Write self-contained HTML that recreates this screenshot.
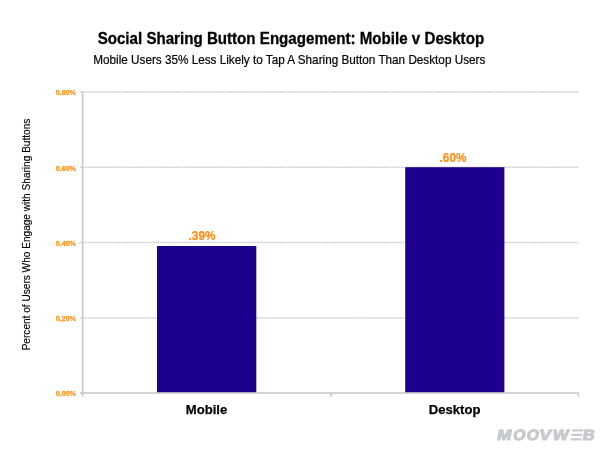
<!DOCTYPE html>
<html><head><meta charset="utf-8">
<style>
html,body{margin:0;padding:0;background:#fff;width:600px;height:451px;overflow:hidden}
svg{display:block;filter:blur(0.3px)}
text{font-family:"Liberation Sans",sans-serif}
</style></head>
<body>
<svg width="600" height="451" viewBox="0 0 600 451">
  <!-- title -->
  <text x="290.9" y="43.6" font-size="16" font-weight="bold" fill="#000" stroke="#000" stroke-width="0.3" text-anchor="middle" textLength="386.5" lengthAdjust="spacingAndGlyphs">Social Sharing Button Engagement: Mobile v Desktop</text>
  <text x="289.3" y="63.6" font-size="12.4" fill="#000" stroke="#000" stroke-width="0.2" text-anchor="middle" textLength="392" lengthAdjust="spacingAndGlyphs">Mobile Users 35% Less Likely to Tap A Sharing Button Than Desktop Users</text>

  <!-- gridlines -->
  <g stroke="#e6e6e6" stroke-width="1.5">
    <line x1="80" y1="92" x2="578.5" y2="92"/>
    <line x1="80" y1="167.3" x2="578.5" y2="167.3"/>
    <line x1="80" y1="242.5" x2="578.5" y2="242.5"/>
    <line x1="80" y1="317.9" x2="578.5" y2="317.9"/>
  </g>
  <g stroke="#d2d2d2" stroke-width="1.3" stroke-dasharray="1 1.6">
    <line x1="80" y1="92" x2="578.5" y2="92"/>
    <line x1="80" y1="167.3" x2="578.5" y2="167.3"/>
    <line x1="80" y1="242.5" x2="578.5" y2="242.5"/>
    <line x1="80" y1="317.9" x2="578.5" y2="317.9"/>
  </g>

  <!-- y axis labels -->
  <g font-size="7.9" font-weight="bold" fill="#ff9624" stroke="#ff9624" stroke-width="0.3" text-anchor="end">
    <text x="76.0" y="95.2" textLength="20.3" lengthAdjust="spacingAndGlyphs">0.80%</text>
    <text x="76.0" y="170.6" textLength="20.3" lengthAdjust="spacingAndGlyphs">0.60%</text>
    <text x="76.0" y="245.8" textLength="20.3" lengthAdjust="spacingAndGlyphs">0.40%</text>
    <text x="76.0" y="321.1" textLength="20.3" lengthAdjust="spacingAndGlyphs">0.20%</text>
    <text x="76.0" y="396.2" textLength="20.3" lengthAdjust="spacingAndGlyphs">0.00%</text>
  </g>

  <!-- bars -->
  <rect x="157" y="246" width="99.3" height="146.7" fill="#1e008f"/>
  <rect x="405.2" y="167.2" width="99.2" height="225.5" fill="#1e008f"/>

  <!-- axes -->
  <g stroke="#c6c6c6" stroke-width="1.6" fill="none">
    <line x1="82.6" y1="91.5" x2="82.6" y2="396.7"/>
    <line x1="80" y1="393" x2="579" y2="393"/>
    <line x1="331" y1="393" x2="331" y2="396.7"/>
    <line x1="578.4" y1="393" x2="578.4" y2="396.7"/>
  </g>

  <!-- bar value labels -->
  <g font-size="12.5" font-weight="bold" fill="#ff8c10" stroke="#ff8c10" stroke-width="0.2" text-anchor="middle">
    <text x="202" y="239.6" textLength="26.8" lengthAdjust="spacingAndGlyphs">.39%</text>
    <text x="453" y="161.6" textLength="26.8" lengthAdjust="spacingAndGlyphs">.60%</text>
  </g>

  <!-- category labels -->
  <g font-size="13.6" font-weight="bold" fill="#000" stroke="#000" stroke-width="0.25" text-anchor="middle">
    <text x="206.5" y="414.1" textLength="41.5" lengthAdjust="spacingAndGlyphs">Mobile</text>
    <text x="454.6" y="414.1" textLength="51.6" lengthAdjust="spacingAndGlyphs">Desktop</text>
  </g>

  <!-- y axis title -->
  <text transform="translate(30.4 234.5) rotate(-90)" font-size="10.1" fill="#000" stroke="#000" stroke-width="0.15" text-anchor="middle">Percent of Users Who Engage with Sharing Buttons</text>

  <!-- logo -->
  <g transform="translate(0 440.6) skewX(-10.5)" fill="#c8cbce">
    <g stroke="#c8cbce" stroke-width="1.1" stroke-linejoin="round" font-size="15" font-weight="bold">
      <text transform="translate(496.39 -0.35) scale(1.148 1)">M</text>
      <text transform="translate(512.4 -0.35) scale(1.052 1)">O</text>
      <text transform="translate(525.82 -0.35) scale(1.052 1)">O</text>
      <text transform="translate(538.47 -0.35) scale(1.19 1)">V</text>
      <text transform="translate(552.05 -0.35) scale(1.12 1)">W</text>
      <text transform="translate(581.93 -0.35) scale(1.109 1)">B</text>
    </g>
    <rect x="570.3" y="-11.35" width="11" height="2.2"/>
    <rect x="570.3" y="-6.8" width="11" height="2.2"/>
    <rect x="570.3" y="-2.25" width="11" height="2.25"/>
  </g>
</svg>
</body></html>
